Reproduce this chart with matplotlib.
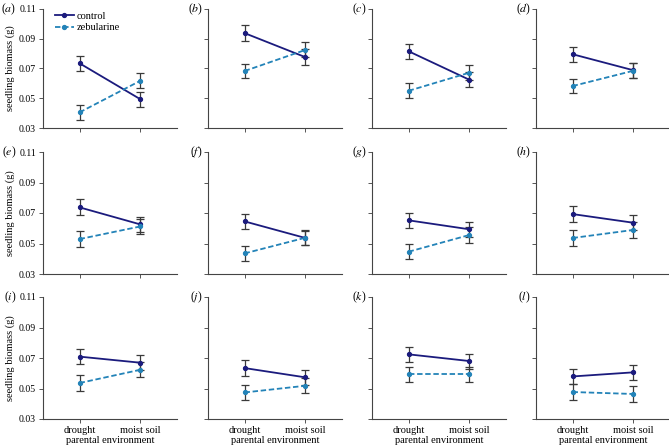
import matplotlib
matplotlib.use("Agg")
import matplotlib.pyplot as plt

plt.rcParams['font.family'] = ['Liberation Serif', 'DejaVu Serif']
plt.rcParams['mathtext.fontset'] = 'stix'
plt.rcParams['font.size'] = 7.5

# panel letters and environments
panels = ['a', 'b', 'c', 'd', 'e', 'f', 'g', 'h', 'i', 'j', 'k', 'l']
environments = ['drought', 'moist soil']

# means (g)
control_drought = [0.0735, 0.0938, 0.0816, 0.0796, 0.0737, 0.0645, 0.0652, 0.0693, 0.0709, 0.0634, 0.0724, 0.0579]
control_moist = [0.0493, 0.0776, 0.0624, 0.0688, 0.0625, 0.0536, 0.0593, 0.0636, 0.0669, 0.0573, 0.0680, 0.0606]
zeb_drought = [0.0405, 0.0683, 0.0550, 0.0582, 0.0529, 0.0435, 0.0446, 0.0536, 0.0536, 0.0474, 0.0592, 0.0477]
zeb_moist = [0.0618, 0.0825, 0.0672, 0.0685, 0.0612, 0.0538, 0.0556, 0.0589, 0.0623, 0.0518, 0.0592, 0.0464]

# error bar half-widths
control_err = [0.0050, 0.0052, 0.0050, 0.0049, 0.0052, 0.0048, 0.0050, 0.0050, 0.0050, 0.0050, 0.0049, 0.0050]
zeb_err = [0.0051, 0.0050, 0.0050, 0.0050, 0.0051, 0.0049, 0.0050, 0.0050, 0.0050, 0.0050, 0.0050, 0.0050]

yticks = [0.03, 0.05, 0.07, 0.09, 0.11]

navy = '#1b1b7d'
teal = '#2383b8'
errc = '#3a3a3a'

fig = plt.figure(figsize=(6.69, 4.47), dpi=100)
W, H = 669.0, 447.0

col_left = [43, 208, 372, 536]
col_w = 134
row_top = [9, 152, 297]
row_h = [119, 122, 122]

for i, p in enumerate(panels):
    r, c = divmod(i, 4)
    ax = fig.add_axes([col_left[c] / W, 1 - (row_top[r] + row_h[r]) / H, col_w / W, row_h[r] / H])
    x = [0, 1]
    ax.errorbar(x, [control_drought[i], control_moist[i]], yerr=[control_err[i]] * 2,
                color=navy, ecolor=errc, elinewidth=0.9, capsize=3, capthick=0.9,
                marker='o', ms=2.8, lw=1.3, ls='-', label='control', zorder=3)
    ax.errorbar(x, [zeb_drought[i], zeb_moist[i]], yerr=[zeb_err[i]] * 2,
                color=teal, ecolor=errc, elinewidth=0.9, capsize=3, capthick=0.9,
                marker='o', ms=2.8, lw=1.3, ls=(0, (3, 1.5)), label='zebularine', zorder=3)
    ax.set_xlim(-0.6, 1.6)
    ax.set_ylim(0.03, 0.11)
    ax.set_yticks(yticks)
    ax.set_xticks(x)
    for s in ['top', 'right']:
        ax.spines[s].set_visible(False)
    for s in ['left', 'bottom']:
        ax.spines[s].set_color('#444444')
        ax.spines[s].set_linewidth(0.8)
    ax.tick_params(direction='out', length=3, width=0.7, color='#555555', pad=2)

    if c == 0:
        ax.set_yticklabels(['%.2f' % v for v in yticks], fontsize=7)
        ax.set_ylabel('seedling biomass (g)', labelpad=3)
        ax.text(-0.2, 1.0, r'($\mathit{%s}$)' % p, transform=ax.transAxes, ha='right', va='center', fontsize=8.5)
    else:
        ax.set_yticklabels([])
        ax.text(-0.04, 1.0, r'($\mathit{%s}$)' % p, transform=ax.transAxes, ha='right', va='center', fontsize=8.5)

    if r == 2:
        ax.set_xticklabels(environments)
        ax.set_xlabel('parental environment', labelpad=1)
    else:
        ax.set_xticklabels([])

    if i == 0:
        h, l = ax.get_legend_handles_labels()
        hs = [hh[0] for hh in h]
        ax.legend(hs, l, loc='upper left', frameon=False, handlelength=1.8, handletextpad=0.3,
                  borderaxespad=0.1, labelspacing=0.2, bbox_to_anchor=(0.05, 1.02))

fig.savefig('out.png', dpi=100)
